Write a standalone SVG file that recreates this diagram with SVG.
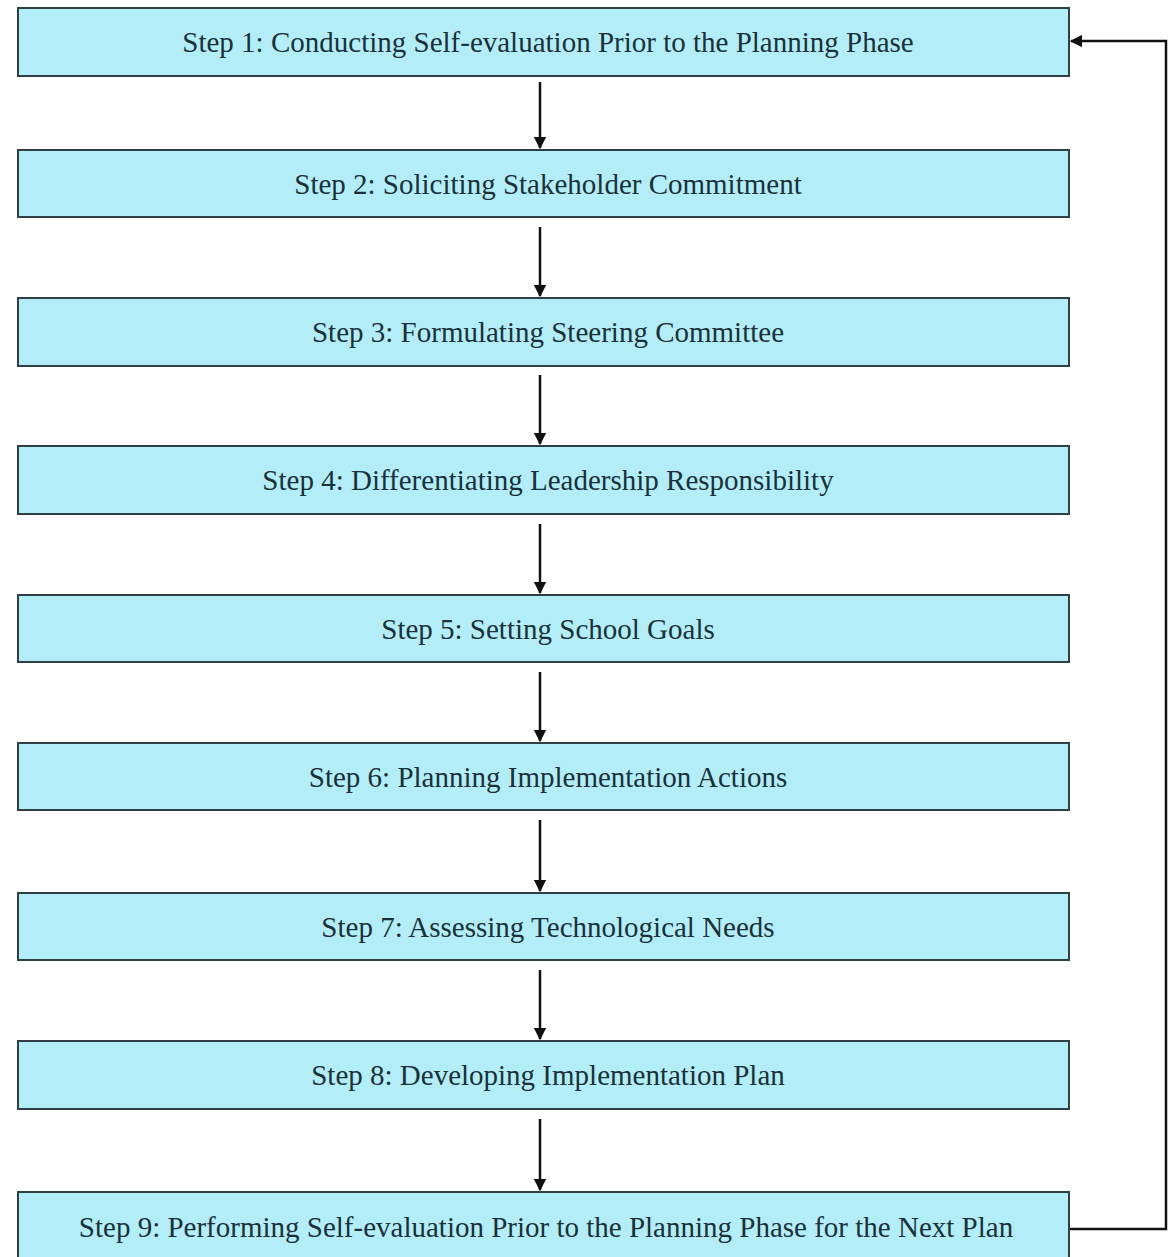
<svg xmlns="http://www.w3.org/2000/svg" width="1173" height="1257" viewBox="0 0 1173 1257">
  <style>
    .box { fill: #b3eef8; stroke: #2f3f44; stroke-width: 2; }
    .lbl { font-family: "Liberation Serif", "Times New Roman", serif; font-size: 29px; fill: #1a3139; text-anchor: middle; }
    .conn { stroke: #111; stroke-width: 2.5; fill: none; }
  </style>
  <defs>
    <marker id="arrow" viewBox="0 0 10 10" refX="9" refY="5" markerWidth="5" markerHeight="5" orient="auto" markerUnits="strokeWidth">
      <path d="M0,0 L10,5 L0,10 z" fill="#111"/>
    </marker>
  </defs>
  <rect width="1173" height="1257" fill="#ffffff"/>

  <g id="connectors">
    <line class="conn" x1="540" y1="82" x2="540" y2="148" marker-end="url(#arrow)"/>
    <line class="conn" x1="540" y1="227" x2="540" y2="296" marker-end="url(#arrow)"/>
    <line class="conn" x1="540" y1="375" x2="540" y2="444" marker-end="url(#arrow)"/>
    <line class="conn" x1="540" y1="524" x2="540" y2="593" marker-end="url(#arrow)"/>
    <line class="conn" x1="540" y1="672" x2="540" y2="741" marker-end="url(#arrow)"/>
    <line class="conn" x1="540" y1="820" x2="540" y2="891" marker-end="url(#arrow)"/>
    <line class="conn" x1="540" y1="970" x2="540" y2="1039" marker-end="url(#arrow)"/>
    <line class="conn" x1="540" y1="1119" x2="540" y2="1190" marker-end="url(#arrow)"/>
    <polyline class="conn" points="1070,1229 1166,1229 1166,41 1071,41" marker-end="url(#arrow)"/>
  </g>

  <g id="step1"><rect class="box" x="18" y="8" width="1051" height="68"/><text class="lbl" x="548" y="52">Step 1: Conducting Self-evaluation Prior to the Planning Phase</text></g>
  <g id="step2"><rect class="box" x="18" y="150" width="1051" height="67"/><text class="lbl" x="548" y="194">Step 2: Soliciting Stakeholder Commitment</text></g>
  <g id="step3"><rect class="box" x="18" y="298" width="1051" height="68"/><text class="lbl" x="548" y="342">Step 3: Formulating Steering Committee</text></g>
  <g id="step4"><rect class="box" x="18" y="446" width="1051" height="68"/><text class="lbl" x="548" y="490">Step 4: Differentiating Leadership Responsibility</text></g>
  <g id="step5"><rect class="box" x="18" y="595" width="1051" height="67"/><text class="lbl" x="548" y="639">Step 5: Setting School Goals</text></g>
  <g id="step6"><rect class="box" x="18" y="743" width="1051" height="67"/><text class="lbl" x="548" y="787">Step 6: Planning Implementation Actions</text></g>
  <g id="step7"><rect class="box" x="18" y="893" width="1051" height="67"/><text class="lbl" x="548" y="937">Step 7: Assessing Technological Needs</text></g>
  <g id="step8"><rect class="box" x="18" y="1041" width="1051" height="68"/><text class="lbl" x="548" y="1085">Step 8: Developing Implementation Plan</text></g>
  <g id="step9"><rect class="box" x="18" y="1192" width="1051" height="70"/><text class="lbl" x="546" y="1237">Step 9: Performing Self-evaluation Prior to the Planning Phase for the Next Plan</text></g>
</svg>
